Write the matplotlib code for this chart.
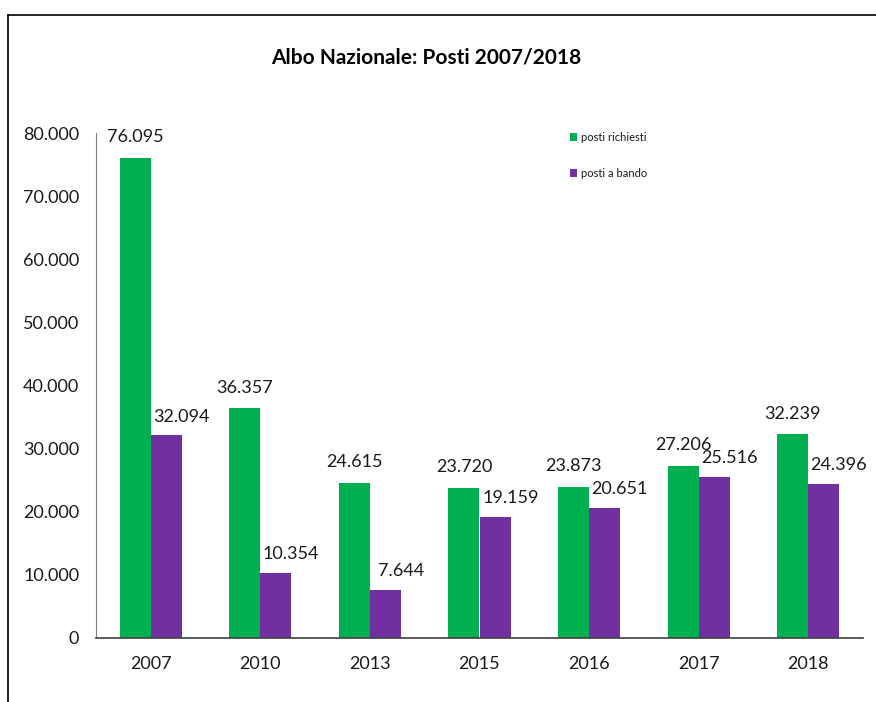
import matplotlib
matplotlib.use("Agg")
import matplotlib.pyplot as plt
from matplotlib.lines import Line2D
from matplotlib.ticker import FuncFormatter
import numpy as np

plt.rcParams['font.family'] = ['Lato', 'DejaVu Sans']

years = ["2007", "2010", "2013", "2015", "2016", "2017", "2018"]
posti_richiesti = [76095, 36357, 24615, 23720, 23873, 27206, 32239]
posti_a_bando = [32094, 10354, 7644, 19159, 20651, 25516, 24396]
series_names = ["posti richiesti", "posti a bando"]
title = "Albo Nazionale: Posti 2007/2018"

GREEN = "#00B050"
PURPLE = "#7030A0"
TXT = "#1a1a1a"

fig = plt.figure(figsize=(8.76, 7.02), dpi=100)
ax = fig.add_axes([96/876, 64/702, 767/876, 505/702])

x = np.arange(len(years))
w = 0.283
b1 = ax.bar(x - w/2, posti_richiesti, w, color=GREEN, label=series_names[0])
b2 = ax.bar(x + w/2, posti_a_bando, w, color=PURPLE, label=series_names[1])

def fmt(v):
    return f"{int(v):,}".replace(",", ".")

for xi, v in zip(x - w/2, posti_richiesti):
    ax.annotate(fmt(v), (xi, v), xytext=(0, 11.5), textcoords="offset points",
                ha="center", va="baseline", fontsize=13, color=TXT)
for xi, v in zip(x + w/2, posti_a_bando):
    ax.annotate(fmt(v), (xi, v), xytext=(11, 10), textcoords="offset points",
                ha="center", va="baseline", fontsize=13, color=TXT)

ax.set_xlim(-0.5, len(years) - 0.5)
ax.set_ylim(0, 80000)
ax.set_yticks(np.arange(0, 80001, 10000))
ax.yaxis.set_major_formatter(FuncFormatter(lambda v, p: fmt(v)))
ax.set_xticks(x)
ax.set_xticklabels(years)
ax.tick_params(axis="y", length=0, pad=12, labelsize=13, labelcolor=TXT)
ax.tick_params(axis="x", length=0, pad=13, labelsize=13, labelcolor=TXT)
for s in ["top", "right"]:
    ax.spines[s].set_visible(False)
ax.spines["left"].set_color("#808080")
ax.spines["bottom"].set_color("#404040")
ax.spines["bottom"].set_linewidth(1.2)

leg = ax.legend(loc="upper left", bbox_to_anchor=(564/876, 1 - 126/702),
                bbox_transform=fig.transFigure, frameon=False, fontsize=8,
                handlelength=0.7, handleheight=0.7, handletextpad=0.3,
                labelspacing=2.25, borderpad=0)
for t in leg.get_texts():
    t.set_color(TXT)

fig.text(0.487, 1 - 57/702, title, ha="center", va="center", fontsize=15,
         fontweight="bold", color="#000000")

fig.add_artist(Line2D([8/876, 1], [1 - 15/702, 1 - 15/702], transform=fig.transFigure,
                      color="#000000", lw=1.2))
fig.add_artist(Line2D([8/876, 8/876], [0, 1 - 15/702], transform=fig.transFigure,
                      color="#000000", lw=1.2))

fig.savefig("out.png", dpi=100)
